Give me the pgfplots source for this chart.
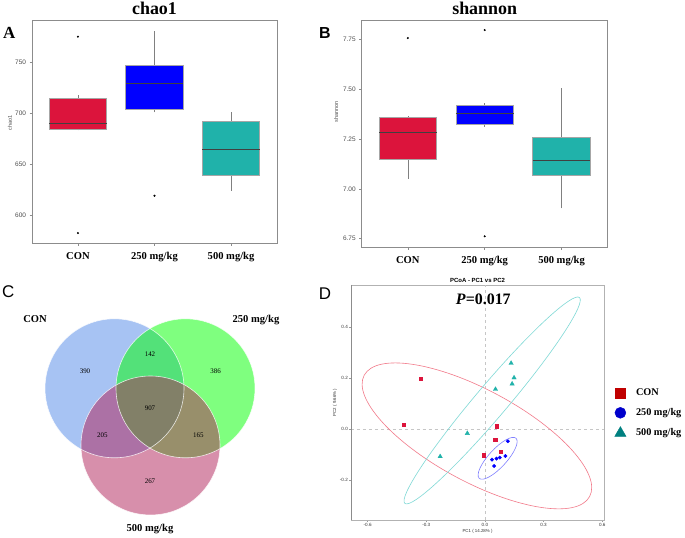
\documentclass[border=0pt]{standalone}
\usepackage{fontspec}
\setmainfont{Liberation Serif}
\setsansfont{Liberation Sans}
\usepackage{pgfplots}
\pgfplotsset{compat=1.18}

\definecolor{conred}{HTML}{DC143C}
\definecolor{midblue}{HTML}{0000FF}
\definecolor{hiteal}{HTML}{20B2AA}
\definecolor{framegray}{HTML}{8C8C8C}
\definecolor{tickgray}{HTML}{4D4D4D}
\definecolor{venblue}{RGB}{81,137,233}
\definecolor{vengreen}{RGB}{0,255,0}
\definecolor{venpink}{RGB}{177,33,89}
\definecolor{ellred}{HTML}{F27A8A}
\definecolor{ellteal}{HTML}{7FD9D6}
\definecolor{ellblue}{HTML}{8080FF}
\definecolor{legred}{HTML}{C00000}
\definecolor{legblue}{HTML}{0000CC}
\definecolor{legteal}{HTML}{008080}

\pgfplotsset{
  boxpanel/.style={
    scale only axis, anchor=south west,
    xmin=0.4, xmax=3.6, xtick={1,2,3},
    xticklabels={CON,250 mg/kg,500 mg/kg},
    xticklabel style={font=\bfseries\fontsize{10.6}{12}\selectfont, yshift=-3bp},
    yticklabel style={font=\sffamily\fontsize{6.5}{7}\selectfont, text=tickgray},
    ylabel style={font=\sffamily\fontsize{5.5}{6}\selectfont, text=tickgray},
    axis line style={framegray, line width=0.8bp},
    tick style={framegray, line width=0.5bp},
    tick align=outside, major tick length=2.5bp,
    xtick pos=bottom, ytick pos=left,
    /pgf/number format/assume math mode=true,
    every axis title/.style={at={(0.5,1)}, anchor=base, yshift=5.3bp,
      font=\bfseries\fontsize{18}{20}\selectfont},
  },
  boxfill/.style={draw=gray!70, line width=0.6bp, fill=#1},
  whisk/.style={draw=gray, line width=0.6bp},
  medline/.style={draw=black!75, line width=1bp},
  outl/.style={only marks, mark=*, mark size=0.8bp, black},
}

\begin{document}
\begin{tikzpicture}
\useasboundingbox (0bp,0bp) rectangle (685bp,538bp);
\fill[white] (0bp,0bp) rectangle (685bp,538bp);

% ---------- A: chao1   (box half width 0.375)
\begin{axis}[boxpanel, at={(32bp,294.7bp)}, width=245bp, height=223bp,
  ymin=573, ymax=791, ytick={600,650,700,750},
  title={chao1},
  ylabel={chao1}, ylabel style={at={(axis description cs:-0.09,0.54)}, anchor=center}]
% CON: whiskers 683.5/717.6, quartiles 684/714.3, median 690
\addplot[whisk] coordinates {(1,683.5) (1,717.6)};
\addplot[boxfill=conred] coordinates {(0.625,684) (1.375,684) (1.375,714.3) (0.625,714.3)} -- cycle;
\addplot[medline] coordinates {(0.625,690) (1.375,690)};
% 250 mg/kg: whiskers 701/781, quartiles 704.2/746.7, median 728.8
\addplot[whisk] coordinates {(2,701) (2,781)};
\addplot[boxfill=midblue] coordinates {(1.625,704.2) (2.375,704.2) (2.375,746.7) (1.625,746.7)} -- cycle;
\addplot[medline] coordinates {(1.625,728.8) (2.375,728.8)};
% 500 mg/kg: whiskers 624.6/701.6, quartiles 639.2/692.5, median 664.7
\addplot[whisk] coordinates {(3,624.6) (3,701.6)};
\addplot[boxfill=hiteal] coordinates {(2.625,639.2) (3.375,639.2) (3.375,692.5) (2.625,692.5)} -- cycle;
\addplot[medline] coordinates {(2.625,664.7) (3.375,664.7)};
\addplot[outl] coordinates {(1,775) (1,583) (2,619.5)};
\end{axis}

% ---------- B: shannon
\begin{axis}[boxpanel, at={(361.7bp,290.7bp)}, width=246bp, height=227bp,
  ymin=6.707, ymax=7.844, ytick={6.75,7,7.25,7.5,7.75},
  yticklabel style={/pgf/number format/.cd, fixed, fixed zerofill, precision=2},
  title={shannon},
  ylabel={shannon}, ylabel style={at={(axis description cs:-0.104,0.597)}, anchor=center}]
\addplot[whisk] coordinates {(1,7.05) (1,7.367)};
\addplot[boxfill=conred] coordinates {(0.625,7.147) (1.375,7.147) (1.375,7.358) (0.625,7.358)} -- cycle;
\addplot[medline] coordinates {(0.625,7.28) (1.375,7.28)};
\addplot[whisk] coordinates {(2,7.312) (2,7.43)};
\addplot[boxfill=midblue] coordinates {(1.625,7.325) (2.375,7.325) (2.375,7.42) (1.625,7.42)} -- cycle;
\addplot[medline] coordinates {(1.625,7.375) (2.375,7.375)};
\addplot[whisk] coordinates {(3,6.902) (3,7.503)};
\addplot[boxfill=hiteal] coordinates {(2.625,7.068) (3.375,7.068) (3.375,7.258) (2.625,7.258)} -- cycle;
\addplot[medline] coordinates {(2.625,7.14) (3.375,7.14)};
\addplot[outl] coordinates {(1,7.755) (2,7.795) (2,6.762)};
\end{axis}

% ---------- C: Venn
\begin{axis}[at={(0bp,0bp)}, anchor=south west, scale only axis, width=340bp, height=268bp,
  xmin=0, xmax=340, ymin=0, ymax=268, hide axis, clip=false]
\fill[venblue, fill opacity=0.5] (axis cs:114.5,149.7) circle[radius=69.5];
\fill[vengreen, fill opacity=0.5] (axis cs:185.5,149.7) circle[radius=69.5];
\fill[venpink, fill opacity=0.5] (axis cs:150.5,92.5) circle[radius=69.5];
\draw[white, line width=0.6bp, opacity=0.8] (axis cs:114.5,149.7) circle[radius=69.5];
\draw[white, line width=0.6bp, opacity=0.8] (axis cs:185.5,149.7) circle[radius=69.5];
\draw[white, line width=0.6bp, opacity=0.8] (axis cs:150.5,92.5) circle[radius=69.5];
\begin{scope}[every node/.style={font=\fontsize{7}{8}\selectfont}]
\node at (axis cs:85,166.3) {390};
\node at (axis cs:150,184) {142};
\node at (axis cs:215.7,166.3) {386};
\node at (axis cs:150,129.7) {907};
\node at (axis cs:102.3,102.3) {205};
\node at (axis cs:198.3,102.3) {165};
\node at (axis cs:150,56.3) {267};
\end{scope}
\begin{scope}[every node/.style={font=\bfseries\fontsize{10.6}{12}\selectfont}]
\node at (axis cs:35,218.7) {CON};
\node at (axis cs:256,218) {250 mg/kg};
\node at (axis cs:150,8.7) {500 mg/kg};
\end{scope}
\end{axis}

% ---------- D: PCoA
\begin{axis}[at={(351bp,18bp)}, anchor=south west, scale only axis, width=253bp, height=235bp,
  xmin=-0.685, xmax=0.609, ymin=-0.356, ymax=0.566,
  xtick={-0.6,-0.3,0,0.3,0.6}, ytick={-0.2,0,0.2,0.4},
  /pgf/number format/assume math mode=true,
  ticklabel style={font=\sffamily\fontsize{4.6}{5}\selectfont, text=black!80, inner sep=1bp},
  xticklabel style={/pgf/number format/.cd, fixed, fixed zerofill, precision=1},
  yticklabel style={/pgf/number format/.cd, fixed, fixed zerofill, precision=1},
  axis line style={gray!60, line width=0.6bp},
  tick style={gray!80, line width=0.4bp}, tick align=outside, major tick length=2bp,
  xtick pos=bottom, ytick pos=left,
  title={PCoA - PC1 vs PC2},
  every axis title/.style={at={(0.5,1)}, anchor=base, yshift=2.5bp,
    font=\sffamily\bfseries\fontsize{6}{7}\selectfont},
  xlabel={PC1 ( 14.28\% )}, ylabel={PC2 ( 9.66\% )},
  label style={font=\sffamily\fontsize{4.4}{5}\selectfont, text=black!80},
  xlabel style={at={(axis description cs:0.5,-0.0498)}, anchor=center},
  ylabel style={at={(axis description cs:-0.063,0.5)}, anchor=center},
  legend style={at={(1.03,0.455)}, anchor=west, draw=none, fill=none,
    font=\bfseries\fontsize{10.3}{12}\selectfont, row sep=7.5bp,
    /tikz/every odd column/.append style={column sep=8bp}},
  legend cell align=left]
\draw[gray!45, dashed, line width=0.4bp] (axis cs:0,-0.356) -- (axis cs:0,0.566);
\draw[gray!45, dashed, line width=0.4bp] (axis cs:-0.685,0) -- (axis cs:0.609,0);
\draw[gray!90, line width=0.7bp] (rel axis cs:0,1) -- (rel axis cs:0,0) -- (rel axis cs:1,0);
\draw[ellred, line width=0.6bp, rotate around={-28.3:(axis cs:-0.041,-0.026)}]
  (axis cs:-0.041,-0.026) ellipse[x radius=128bp, y radius=46bp];
\draw[ellteal, line width=0.6bp, rotate around={49.7:(axis cs:0.037,0.113)}]
  (axis cs:0.037,0.113) ellipse[x radius=135bp, y radius=16bp];
\draw[ellblue, line width=0.6bp, rotate around={47.5:(axis cs:0.065,-0.114)}]
  (axis cs:0.065,-0.114) ellipse[x radius=27.2bp, y radius=9bp];
\addplot[only marks, mark=square*, mark size=1.7bp, conred, forget plot] coordinates {
  (-0.330,0.198) (-0.415,0.017) (0.061,0.012) (0.052,-0.042) (-0.007,-0.102) (0.081,-0.088)};
\addplot[only marks, mark=*, mark size=1.7bp, midblue, forget plot] coordinates {
  (0.117,-0.047) (0.105,-0.105) (0.076,-0.111) (0.059,-0.115) (0.036,-0.119) (0.047,-0.144)};
\addplot[only marks, mark=triangle*, mark size=2.5bp, hiteal, forget plot] coordinates {
  (0.134,0.259) (0.149,0.202) (0.139,0.178) (0.054,0.157) (-0.090,-0.016) (-0.229,-0.107)};
\addlegendimage{only marks, mark=square*, mark size=5bp, legred}
\addlegendentry{CON}
\addlegendimage{only marks, mark=*, mark size=5.5bp, legblue}
\addlegendentry{250 mg/kg}
\addlegendimage{only marks, mark=triangle*, mark size=6.5bp, legteal}
\addlegendentry{500 mg/kg}
\node[font=\bfseries\fontsize{16}{18}\selectfont] at (rel axis cs:0.523,0.939) {\textit{P}=0.017};
\end{axis}

% panel letters
\node[font=\bfseries\fontsize{17}{18}\selectfont] at (9.3bp,504.7bp) {A};
\node[font=\sffamily\bfseries\fontsize{16}{18}\selectfont] at (325bp,504.7bp) {B};
\node[font=\sffamily\fontsize{17}{18}\selectfont] at (8.3bp,246.3bp) {C};
\node[font=\sffamily\fontsize{17}{18}\selectfont] at (325bp,244.7bp) {D};
\end{tikzpicture}
\end{document}
